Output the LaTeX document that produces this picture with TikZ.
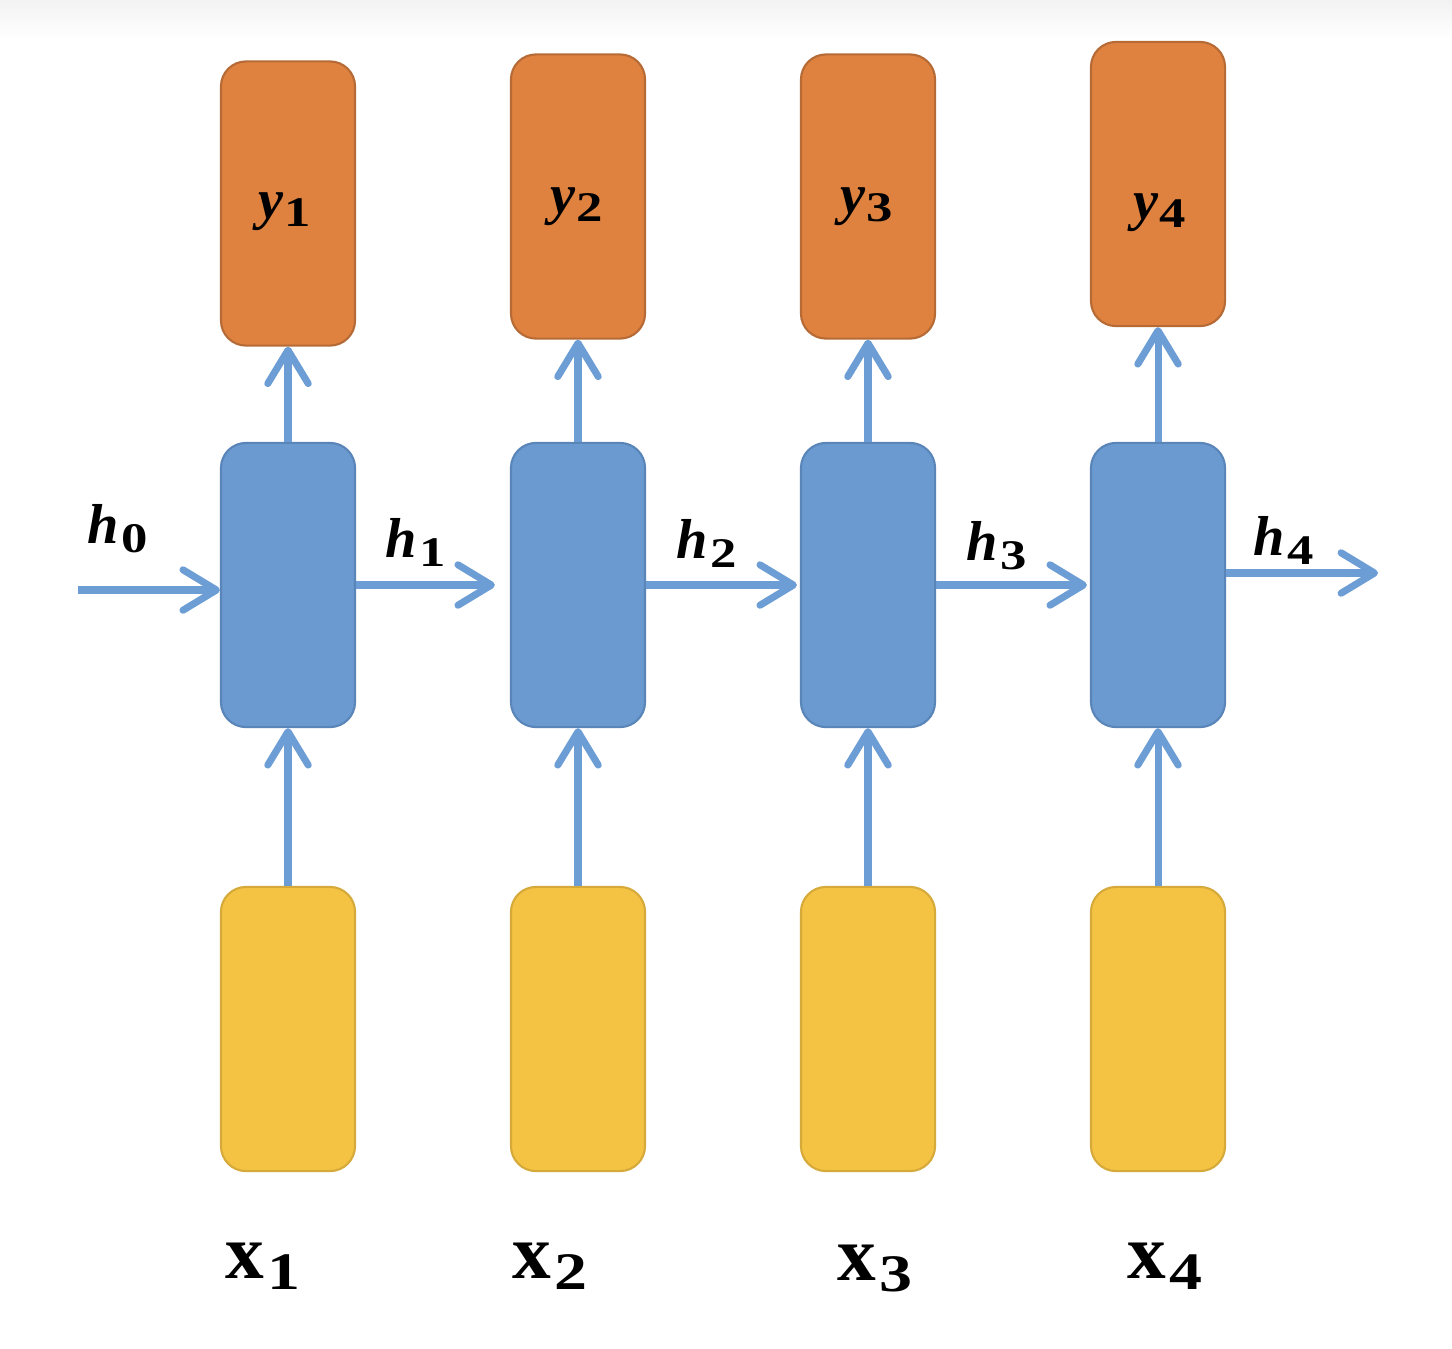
\documentclass[tikz,border=0pt]{standalone}
\usepackage{fontspec}
\usepackage{graphicx}
\setmainfont{Liberation Serif}
\usetikzlibrary{arrows.meta}
\definecolor{orgfill}{HTML}{E0823F}
\definecolor{orgline}{HTML}{B66A36}
\definecolor{bluefill}{HTML}{6A9AD0}
\definecolor{blueline}{HTML}{5A85B8}
\definecolor{yelfill}{HTML}{F4C343}
\definecolor{yelline}{HTML}{D6AA3A}
\definecolor{arrblue}{HTML}{6C9DD5}
\newcommand\mklab[6]{{\fontsize{#3}{#3}\selectfont #1}\kern#6\raisebox{-#5}{\scalebox{1.25}[1]{\fontsize{#4}{#4}\selectfont\bfseries #2}}}
\tikzset{
  cell/.style={rounded corners=0.25cm, minimum width=1.34cm, minimum height=2.84cm, inner sep=0pt, line width=0.6pt},
  outbox/.style={cell, draw=orgline, fill=orgfill},
  hidbox/.style={cell, draw=blueline, fill=bluefill},
  inbox/.style={cell, draw=yelline, fill=yelfill},
  flow/.style={draw=arrblue, line width=2pt, -{Straight Barb[length=9.5pt, width=11.5pt, line cap=round, line join=round]}},
  hlabel/.style={anchor=base west, inner sep=0pt, text=black},
}
\begin{document}
\begin{tikzpicture}[x=0.01cm, y=-0.01cm]
\useasboundingbox (0,0) rectangle (1452,1348);
\fill[white] (0,0) rectangle (1452,1348);
\shade[top color=black!5, bottom color=white] (0,0) rectangle (1452,40);
% output boxes
\node[outbox] (y1) at (288,203.5) {};
\node[outbox] (y2) at (578,196.5) {};
\node[outbox] (y3) at (868,196.5) {};
\node[outbox] (y4) at (1158,184) {};
% hidden boxes
\node[hidbox] (b1) at (288,585) {};
\node[hidbox] (b2) at (578,585) {};
\node[hidbox] (b3) at (868,585) {};
\node[hidbox] (b4) at (1158,585) {};
% input boxes
\node[inbox] (i1) at (288,1029) {};
\node[inbox] (i2) at (578,1029) {};
\node[inbox] (i3) at (868,1029) {};
\node[inbox] (i4) at (1158,1029) {};
% vertical arrows
\foreach \k in {1,2,3,4}{
  \draw[flow] (i\k.north) -- (b\k.south);
  \draw[flow] (b\k.north) -- (y\k.south);
}
% horizontal arrows
\coordinate (hin) at (78,590);
\coordinate (hout) at (1378,573);
\draw[flow] (hin) -- (b1.west |- hin);
\draw[flow] (b1.east) -- ([xshift=-0.15cm]b2.west);
\draw[flow] (b2.east) -- ([xshift=-0.03cm]b3.west);
\draw[flow] (b3.east) -- ([xshift=-0.03cm]b4.west);
\draw[flow] (b4.east |- hout) -- (hout);
% h labels
\node[hlabel] (lh0) at (87,543) {\mklab{\bfseries\itshape h}{0}{16}{12}{2.8pt}{0.8pt}};
\node[hlabel] (lh1) at (385,557) {\mklab{\bfseries\itshape h}{1}{16}{12}{2.8pt}{0.8pt}};
\node[hlabel] (lh2) at (676,558) {\mklab{\bfseries\itshape h}{2}{16}{12}{2.8pt}{0.8pt}};
\node[hlabel] (lh3) at (966,560) {\mklab{\bfseries\itshape h}{3}{16}{12}{2.8pt}{0.8pt}};
\node[hlabel] (lh4) at (1253,555) {\mklab{\bfseries\itshape h}{4}{16}{12}{2.8pt}{0.8pt}};
% y labels
\node[hlabel] (ly1) at (258,218) {\mklab{\bfseries\itshape y}{1}{16}{12}{2.5pt}{0.3pt}};
\node[hlabel] (ly2) at (550,213) {\mklab{\bfseries\itshape y}{2}{16}{12}{2.5pt}{0.3pt}};
\node[hlabel] (ly3) at (840,213) {\mklab{\bfseries\itshape y}{3}{16}{12}{2.5pt}{0.3pt}};
\node[hlabel] (ly4) at (1133,219) {\mklab{\bfseries\itshape y}{4}{16}{12}{2.5pt}{0.3pt}};
% x labels
\node[hlabel] (lx1) at (225,1278) {\mklab{\bfseries x}{1}{22}{15}{3.4pt}{0.8pt}};
\node[hlabel] (lx2) at (512,1278) {\mklab{\bfseries x}{2}{22}{15}{3.4pt}{0.8pt}};
\node[hlabel] (lx3) at (837,1280) {\mklab{\bfseries x}{3}{22}{15}{3.4pt}{0.8pt}};
\node[hlabel] (lx4) at (1127,1278) {\mklab{\bfseries x}{4}{22}{15}{3.4pt}{0.8pt}};
\end{tikzpicture}
\end{document}
